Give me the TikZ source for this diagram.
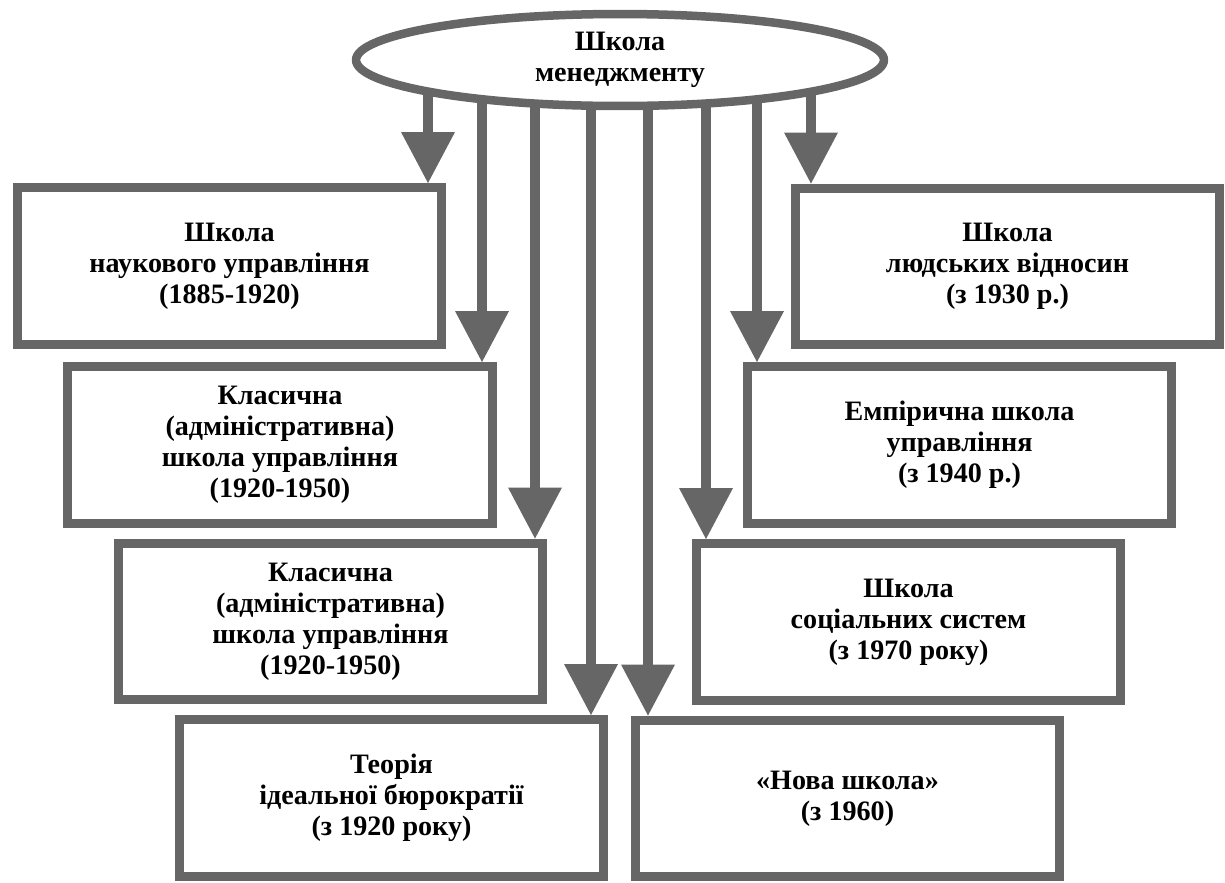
\documentclass[tikz,border=0pt]{standalone}
\usepackage{fontspec}
\setmainfont{Liberation Serif}
\usetikzlibrary{shapes.geometric,arrows.meta,backgrounds}
\definecolor{framegray}{RGB}{102,102,102}

\begin{document}
\begin{tikzpicture}[x=0.02cm,y=-0.02cm,
    textfont/.style={font=\bfseries\fontsize{16}{17.6}\selectfont},
    school/.style={draw=framegray, line width=0.18cm, fill=white, textfont,
      minimum width=8.5cm, minimum height=3.14cm, inner sep=0pt, align=center},
    flow/.style={draw=framegray, line width=0.2cm,
      -{Triangle[width=1.08cm,length=1.02cm,line width=0pt]}}]
    \useasboundingbox (0,0) rectangle (1225,883);
    \node[ellipse, draw=framegray, line width=0.17cm, fill=white, textfont,
      minimum width=10.56cm, minimum height=1.84cm, inner sep=0pt, align=center]
      (root) at (620,60) {Школа\\менеджменту};
    % left column
    \node[school] (sci) at (229.5,266) {Школа\\наукового управління\\(1885-1920)};
    \node[school] (adm) at (280,445) {Класична\\(адміністративна)\\школа управління\\(1920-1950)};
    \node[school] (admb) at (330.5,621.5) {Класична\\(адміністративна)\\школа управління\\(1920-1950)};
    \node[school] (bur) at (391.5,798) {Теорія\\ідеальної бюрократії\\(з 1920 року)};
    % right column
    \node[school] (hum) at (1007.5,266.5) {Школа\\людських відносин\\(з 1930 р.)};
    \node[school] (emp) at (959.5,445) {Емпірична школа\\управління\\(з 1940 р.)};
    \node[school] (soc) at (908.5,622) {Школа\\соціальних систем\\(з 1970 року)};
    \node[school] (new) at (847.5,798.5) {«Нова школа»\\(з 1960)};
    \begin{scope}[on background layer]
      \foreach \x/\b in {428/sci,482/adm,535/admb,591/bur,648/new,706/soc,757/emp,811/hum}
        \draw[flow] (root.center -| \x,0) -- (\b.north -| \x,0);
    \end{scope}
\end{tikzpicture}
\end{document}
